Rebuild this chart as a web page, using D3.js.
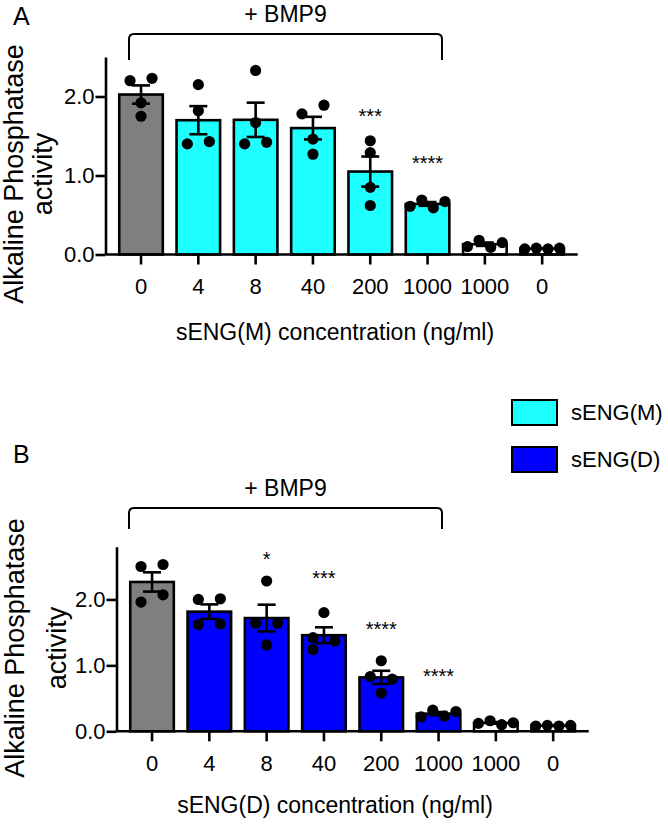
<!DOCTYPE html>
<html><head><meta charset="utf-8">
<script src="https://cdn.jsdelivr.net/npm/d3@7"></script>
<style>
body{margin:0;background:#fff}
svg{display:block}
text{font-family:"Liberation Sans",Arial,Helvetica,sans-serif;fill:#000}
</style>
</head><body>
<svg id="chart" width="668" height="825"></svg>
<script>
// ---------------- data ----------------
const categories = ["0","4","8","40","200","1000","1000","0"];
const barGroup   = ["control","sENG","sENG","sENG","sENG","sENG","noBMP9","noBMP9"];
const dotsM = [
  [2.20,2.23,1.92,1.75],
  [2.15,1.82,1.40,1.43],
  [2.33,1.67,1.40,1.42],
  [1.78,1.89,1.46,1.27],
  [1.44,1.29,0.85,0.62],
  [0.61,0.69,0.59,0.67],
  [0.10,0.18,0.09,0.15],
  [0.07,0.08,0.07,0.08]
];
const dotsD = [
  [2.50,2.53,1.96,2.07],
  [2.00,2.01,1.62,1.63],
  [2.28,1.64,1.64,1.31],
  [1.80,1.42,1.37,1.24],
  [1.07,0.83,0.79,0.58],
  [0.22,0.32,0.23,0.30],
  [0.12,0.16,0.10,0.13],
  [0.08,0.09,0.08,0.09]
];
const sigM = ["","","","","***","****","",""];
const sigD = ["","","*","***","****","****","",""];
const yTicks = [0,1,2];
const seriesNames = ["sENG(M)","sENG(D)"];
const yTitleLines = ["Alkaline Phosphatase","activity"];
const treatmentLabel = "+ BMP9";

// ---------------- styles ----------------
const COLORS = {control:"#7F7F7F", noBMP9:"#FFFFFF", M:"#1EFFFF", D:"#0000FF"};

const svg = d3.select("#chart");

function stats(v){
  const m = d3.mean(v);
  const sem = d3.deviation(v)/Math.sqrt(v.length);
  return {mean:m, sem:sem};
}

function swarm(vals, y, cx){
  // cluster dots overlapping vertically, spread them horizontally
  const R = 5.6, D = 11, pairOff = 11, rowStep = 11.6;
  const pts = vals.map((v,i)=>({v, i, py:y(v), dx:0}));
  const sorted = pts.slice().sort((a,b)=>a.py-b.py);
  const clusters = [];
  let cur = [sorted[0]];
  for(let k=1;k<sorted.length;k++){
    if(sorted[k].py - cur[cur.length-1].py < D) cur.push(sorted[k]);
    else {clusters.push(cur); cur=[sorted[k]];}
  }
  clusters.push(cur);
  clusters.forEach(c=>{
    c.sort((a,b)=>a.i-b.i);
    if(c.length===1){c[0].dx=0;}
    else if(c.length>=4){
      c.forEach((p,j)=>p.dx=(j-(c.length-1)/2)*rowStep);
    } else {
      const placed=[];
      c.forEach(p=>{
        for(const off of [-pairOff,pairOff,0,-2*pairOff,2*pairOff]){
          if(placed.every(q=>Math.hypot(q.dx-off,q.py-p.py)>=D)){p.dx=off;break;}
        }
        placed.push(p);
      });
    }
  });
  return pts.map(p=>({x:cx+p.dx, y:p.py, r:R}));
}

function drawPanel(cfg){
  const g = svg.append("g");
  const x = d3.scaleBand().domain(d3.range(categories.length)).range(cfg.xRange).paddingInner(0.24).paddingOuter(0.24);
  const y = d3.scaleLinear().domain([0,cfg.yMax]).range(cfg.yRange);
  const bw = x.bandwidth();

  const data = cfg.dots.map((v,i)=>({i, ...stats(v), vals:v, group:barGroup[i]}));

  // bars
  g.selectAll("rect.bar").data(data).enter().append("rect")
    .attr("class","bar")
    .attr("x",d=>x(d.i)).attr("width",bw)
    .attr("y",d=>y(d.mean)).attr("height",d=>y(0)-y(d.mean))
    .attr("fill",d=>d.group==="sENG"?cfg.color:COLORS[d.group])
    .attr("stroke","#000").attr("stroke-width",2.6);

  // error bars (mean ± SEM)
  const eb = g.selectAll("g.eb").data(data).enter().append("g").attr("class","eb")
    .attr("stroke","#000").attr("stroke-width",2.6);
  eb.append("line").attr("x1",d=>x(d.i)+bw/2).attr("x2",d=>x(d.i)+bw/2)
    .attr("y1",d=>y(d.mean+d.sem)).attr("y2",d=>y(d.mean-d.sem));
  eb.append("line").attr("x1",d=>x(d.i)+bw/2-9).attr("x2",d=>x(d.i)+bw/2+9)
    .attr("y1",d=>y(d.mean+d.sem)).attr("y2",d=>y(d.mean+d.sem));
  eb.append("line").attr("x1",d=>x(d.i)+bw/2-9).attr("x2",d=>x(d.i)+bw/2+9)
    .attr("y1",d=>y(d.mean-d.sem)).attr("y2",d=>y(d.mean-d.sem));

  // dots
  data.forEach(d=>{
    const pts = swarm(d.vals, y, x(d.i)+bw/2);
    g.selectAll(null).data(pts).enter().append("circle")
      .attr("cx",p=>p.x).attr("cy",p=>p.y).attr("r",p=>p.r).attr("fill","#000");
  });

  // axes
  const xAxis = g.append("g").attr("transform",`translate(0,${y(0)})`)
    .call(d3.axisBottom(x).tickFormat(i=>categories[i]).tickSize(10).tickPadding(14).tickSizeOuter(0));
  xAxis.select(".domain").attr("d",`M${cfg.xRange[0]},0H${cfg.xRange[1]}`);
  const yAxis = g.append("g").attr("transform",`translate(${cfg.xRange[0]},0)`)
    .call(d3.axisLeft(y).tickValues(yTicks).tickFormat(d3.format(".1f")).tickSize(10).tickPadding(1).tickSizeOuter(0));
  [xAxis,yAxis].forEach(a=>{
    a.selectAll(".domain").attr("stroke","#000").attr("stroke-width",2.6);
    a.selectAll(".tick line").attr("stroke","#000").attr("stroke-width",2.6);
    a.selectAll("text").attr("font-size",22).attr("font-family",null).attr("fill","#000");
  });
  xAxis.selectAll("text").attr("dy","0.71em");

  // significance
  data.forEach(d=>{
    if(cfg.sig[d.i]) g.append("text").attr("x",x(d.i)+bw/2).attr("y",cfg.sigY[d.i])
      .attr("text-anchor","middle").attr("font-size",20).text(cfg.sig[d.i]);
  });

  // bracket
  const [bx0,bx1]=cfg.bracketX, bt=cfg.bracketTop, bb=cfg.bracketBottom, rr=5;
  g.append("path").attr("fill","none").attr("stroke","#000").attr("stroke-width",2)
    .attr("d",`M${bx0},${bb}V${bt+rr}Q${bx0},${bt} ${bx0+rr},${bt}H${bx1-rr}Q${bx1},${bt} ${bx1},${bt+rr}V${bb}`);
  g.append("text").attr("x",(bx0+bx1)/2).attr("y",cfg.bmpY).attr("text-anchor","middle")
    .attr("font-size",23).text(treatmentLabel);

  // panel letter
  g.append("text").attr("x",13).attr("y",cfg.letterY).attr("font-size",25).text(cfg.letter);

  // y title
  yTitleLines.forEach((t,k)=>{
    g.append("text").attr("transform",`translate(${cfg.yTitleX[k]},${cfg.yTitleC}) rotate(-90)`)
      .attr("text-anchor","middle").attr("font-size",cfg.yTitleSize).text(t);
  });

  // x title
  g.append("text").attr("x",cfg.xTitleX).attr("y",cfg.xTitleY).attr("text-anchor","middle")
    .attr("font-size",23).text(cfg.xTitle);
}

drawPanel({
  dots:dotsM, sig:sigM, color:COLORS.M, letter:"A", letterY:25,
  xRange:[105.5,577.7], yRange:[254.5,57], yMax:2.5,
  sigY:{4:123,5:170},
  bracketX:[129,442], bracketTop:34, bracketBottom:60, bmpY:22,
  yTitleC:174, yTitleX:[23,52], yTitleSize:27,
  xTitleX:335, xTitleY:340, xTitle:"sENG(M) concentration (ng/ml)"
});
drawPanel({
  dots:dotsD, sig:sigD, color:COLORS.D, letter:"B", letterY:463,
  xRange:[116.5,588.7], yRange:[731.3,546.7], yMax:2.8,
  sigY:{2:566,3:585,4:636,5:683},
  bracketX:[129,442], bracketTop:508, bracketBottom:529, bmpY:496,
  yTitleC:648, yTitleX:[24,66], yTitleSize:27,
  xTitleX:335, xTitleY:813, xTitle:"sENG(D) concentration (ng/ml)"
});

// legend
const legend = svg.append("g");
const legendY = [400,447];
seriesNames.forEach((n,k)=>{
  legend.append("rect").attr("x",512).attr("y",legendY[k]).attr("width",45).attr("height",25)
    .attr("fill",k===0?COLORS.M:COLORS.D).attr("stroke","#000").attr("stroke-width",2);
  legend.append("text").attr("x",571).attr("y",legendY[k]+20).attr("font-size",22).text(n);
});
</script>
</body></html>
